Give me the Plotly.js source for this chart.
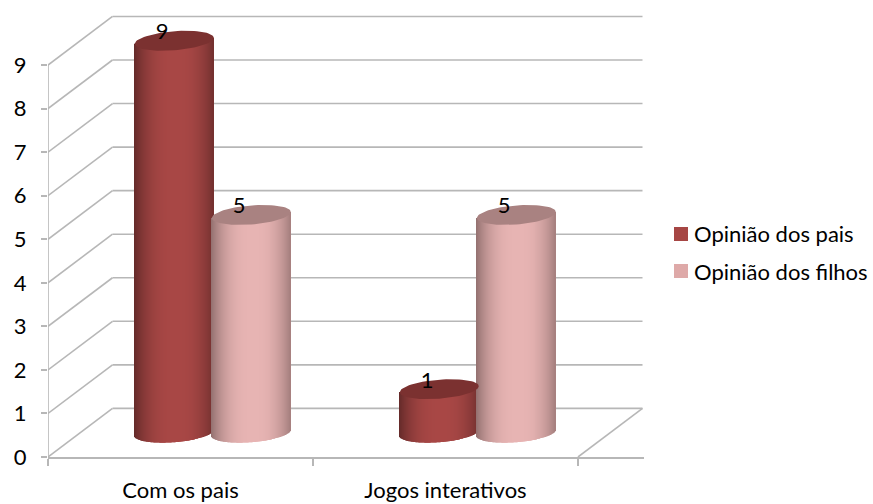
<!DOCTYPE html>
<html>
<head>
<meta charset="utf-8">
<script src="https://cdn.plot.ly/plotly-3.0.1.min.js"></script>
<style>html,body{margin:0;padding:0;background:#fff}#chart{width:873px;height:504px}</style>
</head>
<body>
<div id="chart"></div>
<script>
// Survey answers per category
const categories = ['Com os pais', 'Jogos interativos'];
const opiniaoPais = [9, 1];
const opiniaoFilhos = [5, 5];
const seriesNames = ['Opinião dos pais', 'Opinião dos filhos'];
const seriesColors = ['#a64644', '#dea9a8'];
const yTicks = [0, 1, 2, 3, 4, 5, 6, 7, 8, 9];

// Oblique projection of the 3D box, in axis units
const unitX = 265, unitY = 43.55;
const depthX = 64.5 / unitX, depthY = 48.6 / unitY;
const midX = depthX / 2, midY = depthY / 2;
const barHalf = 38.5 / unitX, radius = 39.5 / unitX;
const capH = 9.5 / unitY, capTilt = 3 / unitY;

const mix = (a, b, f) => a.map((v, i) => Math.round(v + (b[i] - v) * f));
const rgb = c => `rgb(${c[0]},${c[1]},${c[2]})`;

// One bar per pixel column gives the cylinder its horizontal shading
function cylinders(values, side, name, edge, centre) {
  const xs = [], bases = [], heights = [], colors = [];
  values.forEach((v, k) => {
    const cx = k + 0.5 + midX + side * barHalf;
    for (let p = 0; p < 80; p++) {
      const t = (p + 0.5) / 40 - 1;
      const round = Math.sqrt(1 - t * t);
      const bottom = midY + capTilt * t - capH * round;
      const top = midY + v + capTilt * t;
      xs.push(cx + t * radius);
      bases.push(bottom);
      heights.push(top - bottom);
      colors.push(rgb(mix(edge, centre, 1 - Math.pow(Math.abs(t - 0.05) / 1.05, 2.6))));
    }
  });
  return {type: 'bar', x: xs, y: heights, base: bases, width: 1 / unitX, opacity: 1,
          marker: {color: colors, opacity: 1, line: {width: 0}}, showlegend: false,
          hoverinfo: 'skip', name: name};
}

// Elliptic lids on top of the cylinders
function caps(values, side, color) {
  const xs = [], ys = [];
  values.forEach((v, k) => {
    const cx = k + 0.5 + midX + side * barHalf;
    for (let a = 0; a <= 72; a++) {
      const ang = a / 72 * 2 * Math.PI;
      const t = Math.cos(ang);
      xs.push(cx + t * radius);
      ys.push(midY + v + capTilt * t + capH * Math.sin(ang));
    }
    xs.push(null); ys.push(null);
  });
  return {type: 'scatter', mode: 'lines', x: xs, y: ys, fill: 'toself', fillcolor: color,
          line: {width: 0, color: color}, showlegend: false, hoverinfo: 'skip'};
}

function valueLabels(values, side, dx) {
  return {type: 'scatter', mode: 'text',
          x: values.map((v, k) => k + 0.5 + midX + side * barHalf - dx),
          y: values.map(v => v + midY + 0.16),
          text: values.map(String), textposition: 'middle center',
          textfont: {family: 'Lato', size: 22, color: '#000'},
          showlegend: false, hoverinfo: 'skip', cliponaxis: false};
}

const gridColor = '#b7b7b7';
const wallLine = (x0, y0, x1, y1) => ({type: 'line', layer: 'below', xref: 'x', yref: 'y',
  x0, y0, x1, y1, line: {color: gridColor, width: 1.6}});

const shapes = [];
yTicks.forEach(v => {
  shapes.push(wallLine(0, v, depthX, v + depthY));
  shapes.push(wallLine(depthX, v + depthY, 2 + depthX, v + depthY));
});
shapes.push(wallLine(2, 0, 2 + depthX, depthY));

const plotLeft = 48, plotTop = 14, plotBottom = 457, plotRight = 644;
const paperX = px => (px - plotLeft) / (plotRight - plotLeft);
const paperY = py => (plotBottom - py) / (plotBottom - plotTop);

// Legend block to the right of the box: a square key and a label per series
const legendRows = [234, 271];
const annotations = [];
seriesNames.forEach((name, i) => {
  const cy = legendRows[i];
  shapes.push({type: 'rect', xref: 'paper', yref: 'paper', x0: paperX(674), x1: paperX(688),
               y0: paperY(cy + 7), y1: paperY(cy - 7), line: {width: 0}, fillcolor: seriesColors[i]});
  annotations.push({xref: 'paper', yref: 'paper', x: paperX(692), y: paperY(cy - 1 + i), xanchor: 'left', yanchor: 'middle',
                    text: name, showarrow: false, font: {family: 'Lato', size: 22, color: '#000'}});
});

const traces = [
  cylinders(opiniaoPais, -1, seriesNames[0], [100, 42, 41], [168, 71, 69]),
  cylinders(opiniaoFilhos, 1, seriesNames[1], [146, 112, 111], [231, 180, 179]),
  caps(opiniaoPais, -1, '#7b3130'),
  caps(opiniaoFilhos, 1, '#a98281'),
  {type: 'scatter', mode: 'lines', x: [0, 0], y: [0, 9], cliponaxis: false,
   line: {color: gridColor, width: 1.6}, showlegend: false, hoverinfo: 'skip'},
  valueLabels(opiniaoPais, -1, 12 / unitX),
  valueLabels(opiniaoFilhos, 1, 12 / unitX)
];

const layout = {
  width: 873, height: 504,
  margin: {l: plotLeft, r: 873 - plotRight, t: plotTop, b: 504 - plotBottom, pad: 0, autoexpand: false},
  paper_bgcolor: '#fff', plot_bgcolor: 'rgba(0,0,0,0)',
  font: {family: 'Lato', color: '#000', size: 22},
  barmode: 'overlay',
  showlegend: false,
  xaxis: {
    range: [0, (plotRight - plotLeft) / unitX], showgrid: false, zeroline: false,
    showline: true, linecolor: gridColor, linewidth: 1.6,
    tickmode: 'array', tickvals: [0.5, 1.5], ticktext: categories, ticks: '',
    ticklabelstandoff: 13, tickfont: {family: 'Lato', size: 22, color: '#000'},
    minor: {tickmode: 'array', tickvals: [0, 1, 2], ticks: 'outside', ticklen: 7, tickcolor: gridColor, tickwidth: 1.6, showgrid: false}
  },
  yaxis: {
    range: [0, (plotBottom - plotTop) / unitY], showgrid: false, zeroline: false, showline: false,
    tickmode: 'array', tickvals: yTicks, ticks: 'outside', ticklen: 6,
    tickcolor: gridColor, tickwidth: 1.6, ticklabelstandoff: 10,
    tickfont: {family: 'Lato', size: 22, color: '#000'}
  },
  shapes: shapes,
  annotations: annotations,
  hovermode: false
};

Plotly.newPlot('chart', traces, layout, {displayModeBar: false});
</script>
</body>
</html>
